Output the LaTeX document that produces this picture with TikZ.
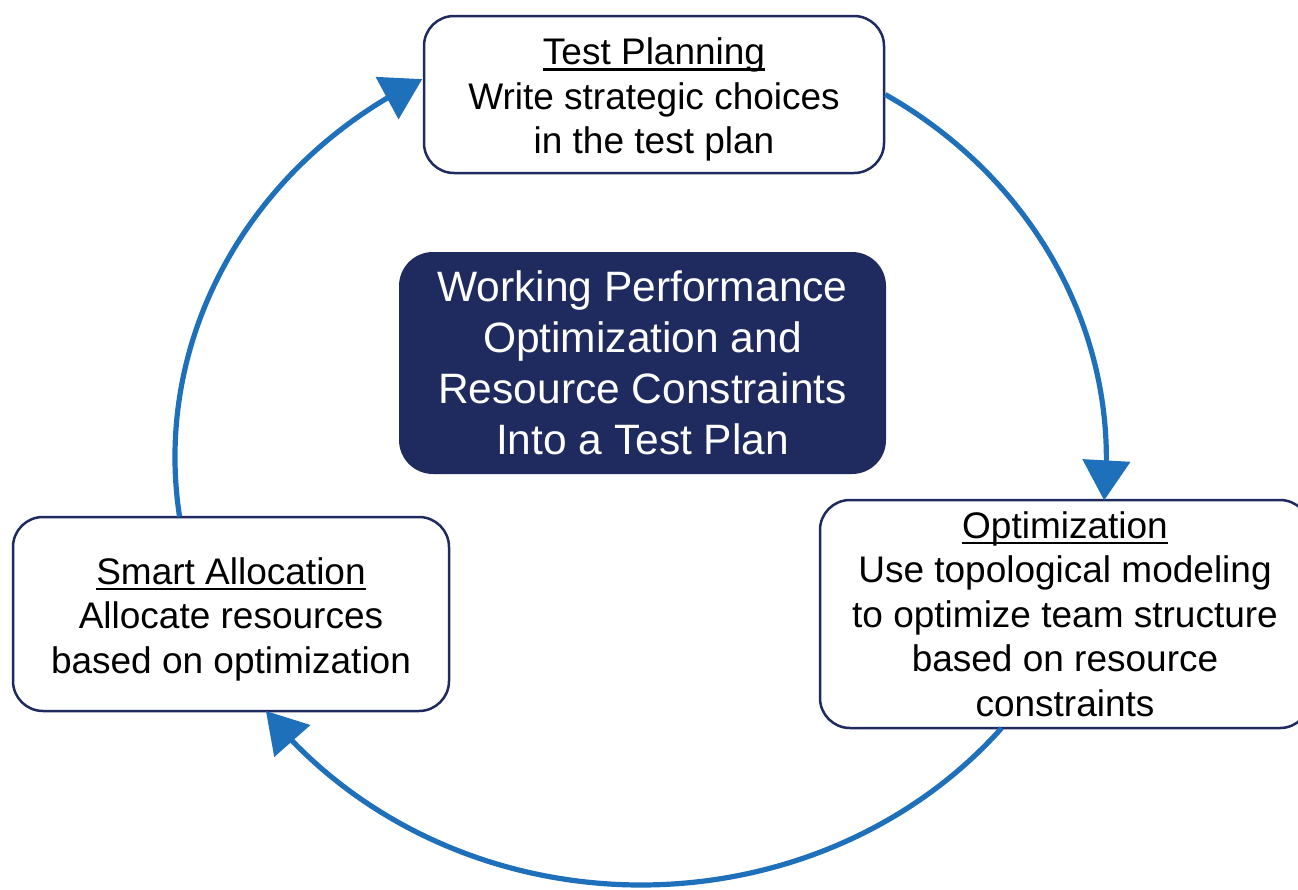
\documentclass[tikz,border=0pt]{standalone}
\usepackage{fontspec}
\setmainfont{Liberation Sans}
\usetikzlibrary{arrows.meta,bending}
\definecolor{navy}{HTML}{1F2B5E}
\definecolor{loopblue}{HTML}{1F70BA}
\newcommand{\stagehead}[2][0pt]{\setbox0\hbox{#2}\rule{0pt}{#1}\rlap{\rule[-6pt]{\wd0}{2.6pt}}\box0}

\begin{document}
\begin{tikzpicture}[
            x=1pt, y=1pt,
            stage/.style={draw=navy, line width=2.5pt, fill=white, rounded corners=30pt, align=center, inner sep=0pt, font=\fontsize{37}{44.5}\selectfont},
            hub/.style={fill=navy, rounded corners=34pt, align=center, inner sep=0pt, text=white, font=\fontsize{42.5}{51}\selectfont},
            flow/.style={draw=loopblue, line width=5.2pt, -{Triangle[length=40pt, width=47pt]}}
        ]
            \useasboundingbox (0,0) rectangle (1298,-889);
            % centre
            \node[hub, minimum width=487pt, minimum height=222pt] (hub) at (642.5,-363) {Working Performance\\Optimization and\\Resource Constraints\\Into a Test Plan};
            % stages
            \node[stage, minimum width=460pt, minimum height=157pt] (plan) at (654,-94.5) {\stagehead[37pt]{Test Planning}\\Write strategic choices\\in the test plan};
            \node[stage, minimum width=490pt, minimum height=228pt] (optim) at (1065,-614) {\stagehead{Optimization}\\Use topological modeling\\to optimize team structure\\based on resource\\constraints};
            \node[stage, minimum width=436pt, minimum height=194pt] (alloc) at (231,-614) {\stagehead[37pt]{Smart Allocation}\\Allocate resources\\based on optimization};
            % cycle
            \coordinate (ring) at (641,-457);
            \draw[flow] (plan.east) arc[start angle=58.3, end angle=-5.6, x radius=466, y radius=428];
            \draw[flow] ([shift={(-39.3:466 and 428)}]ring) arc[start angle=-39.3, end angle=-143.6, x radius=466, y radius=428];
            \draw[flow] ([shift={(188:466 and 428)}]ring) arc[start angle=188, end angle=118, x radius=466, y radius=428];
        \end{tikzpicture}
\end{document}
